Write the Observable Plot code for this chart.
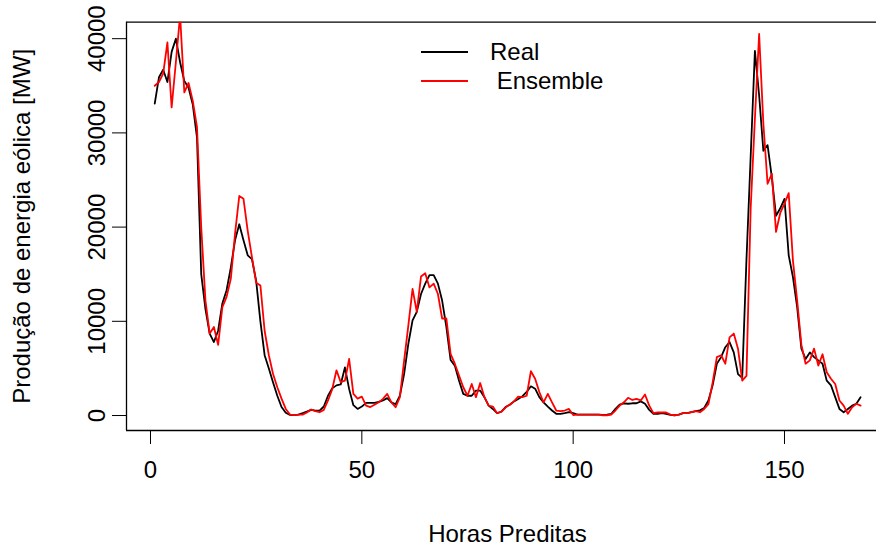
<!DOCTYPE html>
<html><head><meta charset="utf-8">
<script src="https://cdn.jsdelivr.net/npm/d3@7"></script>
<script src="https://cdn.jsdelivr.net/npm/@observablehq/plot@0.6"></script>
<style>body{margin:0;background:#fff} svg{display:block}</style>
</head><body><div id="chart"></div>
<script>
const real = [33100,35900,36700,35400,38600,40000,37500,35500,34800,33000,
 29500,15000,11300,8700,7800,9000,11900,13300,15700,18600,
 20300,18600,17000,16600,14300,10000,6400,5000,3500,2100,
 900,300,70,50,100,250,420,600,530,530,
 960,2100,2900,3200,3300,5100,2800,1100,700,950,
 1350,1350,1350,1450,1600,1850,1400,1200,2100,4400,
 7600,10100,11000,12900,14000,14900,14900,14000,12200,9400,
 5900,5300,3700,2300,2100,2100,2650,2650,1950,1050,
 700,250,400,900,1150,1500,1750,2050,2500,3100,
 2850,1950,1400,950,530,180,180,250,350,250,
 100,100,100,100,100,100,70,100,160,700,
 1150,1300,1250,1300,1300,1500,1250,600,180,180,
 250,180,70,30,100,250,250,350,460,550,
 800,1600,3200,5500,6200,7250,7800,6700,4400,4000,
 16500,27500,38700,34000,28100,28700,25300,21200,22000,23000,
 17000,14700,11500,7100,6000,6700,6200,5850,5500,3700,
 3200,1950,700,350,700,1050,1250,1950];
const ensemble = [35000,35400,36300,39600,32700,37500,42500,34300,35300,33400,
 30600,20000,12200,8700,9400,7500,11500,12600,14500,19300,
 23300,23000,19600,16800,14100,13800,9000,6400,4400,3000,
 1800,700,100,50,100,100,320,640,460,350,
 600,1600,2800,4800,3550,3700,6000,2300,1800,2000,
 1050,900,1150,1400,1770,2300,1400,880,1950,5800,
 9550,13450,11000,14750,15100,13600,14000,12900,10300,10300,
 6550,5500,4250,3000,2100,3350,1950,3450,1950,1050,
 950,250,400,850,1150,1500,2000,1950,2100,4700,
 3900,2500,1400,2300,1400,530,460,530,700,50,
 100,100,100,100,100,100,30,30,100,530,
 1050,1400,1880,1650,1770,1600,2230,1050,250,320,
 320,320,100,30,100,250,250,350,460,350,
 700,1200,3500,6200,6400,5500,8300,8700,7100,3700,
 4200,22000,31500,40500,31000,24600,25650,19500,21500,22500,
 23600,16450,12200,7500,5500,5850,7100,5300,6500,4600,
 3900,3350,1600,1050,180,880,1250,1050];
const xTicks = [0, 50, 100, 150];
const yTicks = [0, 10000, 20000, 30000, 40000];
const seriesNames = ["Real", " Ensemble"];
const seriesColors = ["#000000", "#ff0000"];
const xLabel = "Horas Preditas";
const yLabel = "Produção de energia eólica [MW]";

const realRows = real.map((v, i) => ({h: i + 1, v}));
const ensRows = ensemble.map((v, i) => ({h: i + 1, v}));

const xDomain = [-5.68, 171.77];
const yDomain = [-1590, 41750];
const font = "'Liberation Sans', Arial, Helvetica, sans-serif";
const fs = 24;

const chart = Plot.plot({
  width: 876, height: 546,
  marginLeft: 126, marginRight: 0, marginTop: 21.7, marginBottom: 116,
  style: {fontFamily: font, fontSize: fs + "px", background: "white", color: "black", overflow: "visible"},
  x: {domain: xDomain, ticks: xTicks, tickSize: 14, tickFormat: () => "", label: null},
  y: {domain: yDomain, ticks: yTicks, tickSize: 14, tickFormat: () => "", label: null},
  marks: [
    Plot.ruleY([yDomain[0], yDomain[1]], {stroke: "black", strokeWidth: 1.3}),
    Plot.ruleX([xDomain[0]], {stroke: "black", strokeWidth: 1.3}),
    Plot.line(realRows, {x: "h", y: "v", stroke: seriesColors[0], strokeWidth: 1.8, clip: true}),
    Plot.line(ensRows, {x: "h", y: "v", stroke: seriesColors[1], strokeWidth: 1.8, clip: true}),
    Plot.text(xTicks, {x: d => d, frameAnchor: "bottom", dy: 40, text: d => String(d), fontSize: fs, textAnchor: "middle", lineAnchor: "middle", fill: "black"}),
    Plot.text(yTicks, {y: d => d, frameAnchor: "left", dx: -29, rotate: -90, text: d => String(d), fontSize: fs, textAnchor: "middle", lineAnchor: "middle", fill: "black"}),
    Plot.text([xLabel], {frameAnchor: "bottom", dx: 6, dy: 104, text: d => d, fontSize: fs, textAnchor: "middle", lineAnchor: "middle", fill: "black"}),
    Plot.text([yLabel], {frameAnchor: "left", dx: -104, rotate: -90, text: d => d, fontSize: fs, textAnchor: "middle", lineAnchor: "middle", fill: "black"})
  ]
});
document.getElementById("chart").appendChild(chart);

const svg = d3.select(chart);
const leg = svg.append("g").attr("font-family", font).attr("font-size", fs).attr("text-anchor", "start");
seriesNames.forEach((name, i) => {
  const y = 52 + i * 29;
  leg.append("line").attr("x1", 421).attr("x2", 468).attr("y1", y).attr("y2", y)
    .attr("stroke", seriesColors[i]).attr("stroke-width", 1.8);
  leg.append("text").attr("x", 490).attr("y", y).attr("dy", "0.35em")
    .attr("text-anchor", "start")
    .attr("xml:space", "preserve").style("white-space", "pre").attr("fill", "black").text(name);
});
</script>
</body></html>
